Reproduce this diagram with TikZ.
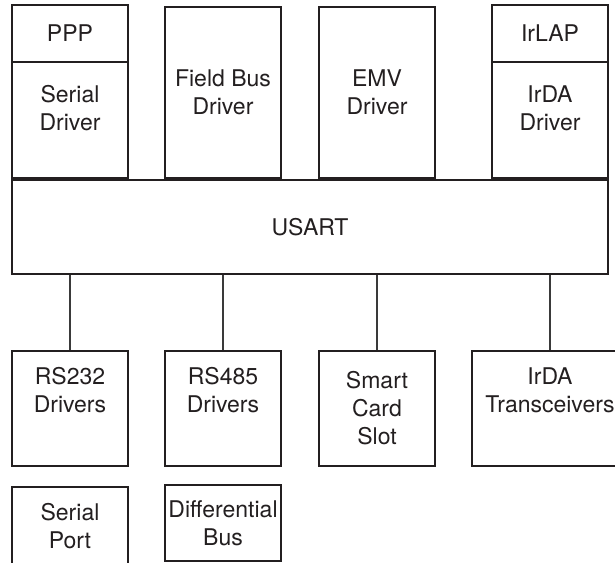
\documentclass[tikz,border=0pt]{standalone}
\usepackage{fontspec}
\setmainfont{TeX Gyre Heros}
\usepackage{xcolor}
\usepackage{tikz}
\usetikzlibrary{positioning}
\definecolor{usartink}{HTML}{231F20}
\definecolor{usartwire}{HTML}{3A3A3A}

\begin{document}
\begin{tikzpicture}[
  x=1pt,y=-1pt,
  blk/.style={draw=usartink,line width=2pt,fill=white,text=usartink,align=center,
    inner sep=1pt,font={\fontsize{23}{28}\selectfont}},
  wire/.style={draw=usartwire,line width=1.1pt}
]
\useasboundingbox (0,0) rectangle (615,562);
\clip (0,0) rectangle (615,562);
% upper stack
\node[blk,minimum width=116pt,minimum height=57pt] (ppp) at (70,33.5) {PPP};
\node[blk,minimum width=116pt,minimum height=116pt] (serdrv) at (70,120) {Serial\\Driver\\[-12pt]\strut};
\node[blk,minimum width=116pt,minimum height=171pt] (fbdrv) at (223,92.5) {Field Bus\\Driver};
\node[blk,minimum width=116pt,minimum height=171pt] (emvdrv) at (377,92.5) {EMV\\Driver};
\node[blk,minimum width=116pt,minimum height=57pt] (irlap) at (550,33.5) {IrLAP};
\node[blk,minimum width=116pt,minimum height=116pt] (irdadrv) at (550,120) {IrDA\\Driver\\[-12pt]\strut};
\node[blk,minimum width=596pt,minimum height=94pt] (usart) at (310,227) {USART};
% lower row
\node[blk,minimum width=116pt,minimum height=115pt] (rs232) at (70,408.5) {RS232\\Drivers\\\strut};
\node[blk,minimum width=116pt,minimum height=115pt] (rs485) at (223,408.5) {RS485\\Drivers\\\strut};
\node[blk,minimum width=116pt,minimum height=115pt] (smart) at (377,408.5) {Smart\\Card\\Slot};
\node[blk,minimum width=156pt,minimum height=115pt] (irtrx) at (550,408.5) {IrDA\\Transceivers\\\strut};
\node[blk,minimum width=116pt,minimum height=78pt] (serport) at (70,526) {Serial\\Port};
\node[blk,minimum width=116pt,minimum height=76pt] (diffbus) at (223,523) {Differential\\Bus};
\foreach \n in {rs232,rs485,smart,irtrx}
  \draw[wire] (\n.north) -- (\n.north |- usart.south);
\end{tikzpicture}
\end{document}
